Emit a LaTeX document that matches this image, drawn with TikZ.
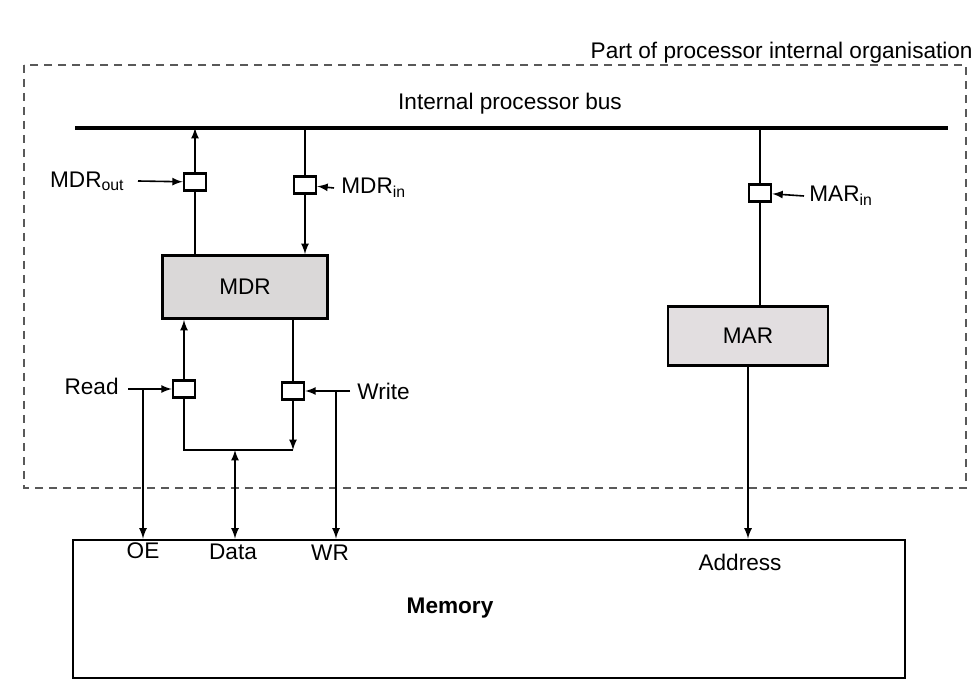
\documentclass[tikz,border=0pt]{standalone}
\usepackage{fontspec}
\setmainfont{Liberation Sans}
\usepackage{tikz}
\usetikzlibrary{shapes}

\begin{document}
\begin{tikzpicture}[x=0.5pt,y=0.5pt,yscale=-1,xscale=1,
  font=\fontsize{11.3}{13}\selectfont,
  gate/.style={draw,line width=1.3pt,minimum width=11pt,minimum height=8.5pt,inner sep=0pt},
  reg/.style={draw,line width=1.4pt,fill={rgb, 255:red, 218; green, 216; blue, 216 },inner sep=0pt},
  lbl/.style={inner sep=1.5pt},
  wire/.style={line width=0.8pt},
  sig/.style={wire,-latex}]
\useasboundingbox (0,0) rectangle (978,699);

%Shape: Dashed frame
\draw [dash pattern={on 4pt off 3pt},line width=0.7pt,color=black!65] (24,65) rectangle (966,488);
% Text Node
\node (lpart) [anchor=base east,lbl] at (976,59) {Part of processor internal organisation};

%Shape: Bus
\coordinate (busL) at (75,128);
\coordinate (busR) at (948,128);
\draw [line width=2.3pt] (busL) -- (busR);
% Text Node
\node (lbus) [lbl] at (510,104) {Internal processor bus};

%Shape: Registers
\node (mdr) [reg,minimum width=82.5pt,minimum height=31.5pt] at (245,287) {MDR};
\node (mar) [reg,minimum width=80pt,minimum height=29.5pt,fill={rgb, 255:red, 226; green, 222; blue, 224 }] at (748,336) {MAR};
\node (mem) [draw,line width=1.4pt,minimum width=416pt,minimum height=69pt] at (489,609) {};

%Shape: Gates
\node (gmdrout) [gate] at (195,182) {};
\node (gmdrin) [gate] at (305,185) {};
\node (gmarin) [gate] at (760,193) {};
\node (gread) [gate] at (184,389) {};
\node (gwrite) [gate] at (293,391) {};

% Text Node
\node (lmdrout) [lbl,anchor=east] at (128,181) {MDR\textsubscript{out}};
\node (lmdrin) [lbl,anchor=west] at (338,188) {MDR\textsubscript{in}};
\node (lmarin) [lbl,anchor=west] at (806,196) {MAR\textsubscript{in}};
\node (lread) [lbl,anchor=east] at (122,386) {Read};
\node (lwrite) [lbl,anchor=west] at (354,391) {Write};

% Memory labels
\node (loe) [lbl] at (143,551) {OE};
\node (ldata) [lbl] at (233,552) {Data};
\node (lwr) [lbl] at (330,553) {WR};
\node (laddr) [lbl] at (740,562) {Address};
\node (lmem) [lbl,font=\fontsize{11.3}{13}\selectfont\bfseries] at (450,608) {Memory};

% Connectors: MDR side, top
\draw [sig] (gmdrout) -- (gmdrout |- busL);
\draw [wire] (mdr.north -| gmdrout) -- (gmdrout);
\draw [wire] (gmdrin |- busL) -- (gmdrin);
\draw [sig] (gmdrin) -- (gmdrin |- mdr.north);
\draw [sig] ([xshift=5pt]lmdrout.east) -- (gmdrout);
\draw [sig] ([xshift=-2pt]lmdrin.west) -- (gmdrin);

% Connectors: MDR side, bottom
\draw [sig] (gread) -- (gread |- mdr.south);
\draw [wire] (gwrite |- mdr.south) -- (gwrite);
\draw [sig] ([xshift=3pt]lread.east |- gread) -- (gread);
\draw [sig] ([xshift=-2pt]lwrite.west) -- (gwrite);
\coordinate (joinL) at (gread |- 0,450);
\coordinate (joinR) at (gwrite |- 0,450);
\coordinate (joinD) at (235,450);
\draw [wire] (gread) -- (joinL) -- (joinR);
\draw [sig] (gwrite) -- (joinR);
\draw [wire,latex-latex] (joinD) -- (joinD |- mem.north);

% Control lines to memory
\coordinate (tapread) at (143,389);
\coordinate (tapwrite) at (336,391);
\draw [sig] (tapread) -- (tapread |- mem.north);
\draw [sig] (tapwrite) -- (tapwrite |- mem.north);

% Connectors: MAR side
\draw [wire] (gmarin |- busL) -- (gmarin);
\draw [wire] (gmarin) -- (gmarin |- mar.north);
\draw [sig] ([xshift=-1pt]lmarin.west) -- (gmarin);
\draw [sig] (mar.south) -- (mar.south |- mem.north);

\end{tikzpicture}
\end{document}
